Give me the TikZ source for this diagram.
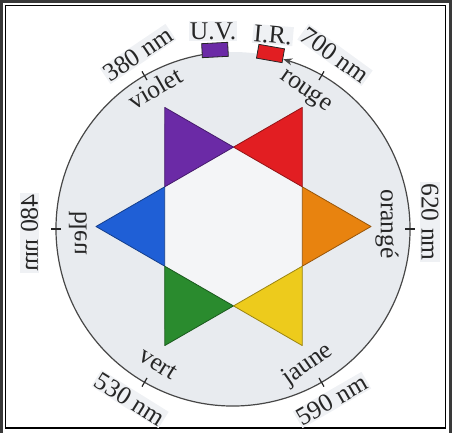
\documentclass[tikz,border=0pt]{standalone}
\usepackage{fontspec}
\usepackage{graphicx}
\setmainfont{Liberation Serif}
\usetikzlibrary{arrows.meta}
\definecolor{bgin}{HTML}{E8EBEF}
\definecolor{hexin}{HTML}{F4F5F7}
\definecolor{cviolet}{HTML}{6B2AA6}
\definecolor{cred}{HTML}{E21E22}
\definecolor{corange}{HTML}{E8830F}
\definecolor{cyellow}{HTML}{EDCB1C}
\definecolor{cgreen}{HTML}{2A8B2E}
\definecolor{cblue}{HTML}{1F5FD6}
\definecolor{ink}{HTML}{262626}
\begin{document}
\begin{tikzpicture}[x=1pt,y=1pt,
  lbl/.style={text=ink,font=\fontsize{25.5}{27}\selectfont,inner sep=1pt},
  outl/.style={lbl,fill=bgin!70},
  circ/.style={draw=ink!85,line width=1.2pt},
  tick/.style={draw=ink,line width=1.2pt},
  box/.style={draw=ink,line width=0.8pt,minimum width=26pt,minimum height=14pt,inner sep=0pt}]
\useasboundingbox (0,0) rectangle (452,432);
% frame
\draw[line width=2.6pt,draw=gray!45!black] (1.3,-6) rectangle (450.7,430.7);
\draw[line width=1.1pt,black] (5.8,4) rectangle (445.4,426.2);
% circle background
\coordinate (C) at (233,203);
\coordinate (S) at (233.5,205.5);
\fill[bgin] (C) circle[radius=177];
% star
\begin{scope}[shift={(233.5,205.5)}]
\fill[hexin] (30:79.4) -- (90:79.4) -- (150:79.4) -- (210:79.4) -- (270:79.4) -- (330:79.4) -- cycle;
\foreach \a/\c in {0/corange,60/cred,120/cviolet,180/cblue,240/cgreen,300/cyellow}{
  \filldraw[fill=\c,draw=\c!65!black,line width=0.8pt,line join=round]
    (\a:137.5) -- (\a+30:79.4) -- (\a-30:79.4) -- cycle;
}
\end{scope}
% arc with arrow
\draw[circ,-{Stealth[length=9pt,width=7pt]}] (C) ++(100:177) arc[start angle=100,end angle=433.5,radius=177];
% ticks
\foreach \a in {0,60,120,180,240,300}{
  \draw[tick] (C) ++(\a:172) -- ++(\a:10);
}
% UV and IR boxes
\node[box,fill=cviolet,rotate=3] (uvbox) at (215,382) {};
\node[box,fill=cred,rotate=-10] (irbox) at (270.5,378.5) {};
% outer labels
\node[outl] (uv) at (213,401) {U.V.};
\node[outl,rotate=-5] (ir) at (273,397) {I.R.};
\node[outl,rotate=34] (n380) at (138,378) {380 nm};
\node[outl,rotate=-36] (n700) at (335,377) {700 nm};
\node[outl,rotate=-90] (n620) at (430,210) {620 nm};
\node[outl,rotate=-90] (n480) at (29.5,199) {\scalebox{1}[-1]{480 nm}};
\node[outl,rotate=-32] (n530) at (130,33) {530 nm};
\node[outl,rotate=30] (n590) at (332,32) {590 nm};
% inner labels
\node[lbl,rotate=30] (violet) at (155,344) {violet};
\node[lbl,rotate=-35] (rouge) at (305,340) {rouge};
\node[lbl,rotate=-90] (orange) at (387,208) {orangé};
\node[lbl,rotate=-90] (bleu) at (78,199) {\scalebox{1}[-1]{bleu}};
\node[lbl,rotate=-32] (vert) at (158,68) {vert};
\node[lbl,rotate=35] (jaune) at (308,67) {jaune};
\end{tikzpicture}
\end{document}
